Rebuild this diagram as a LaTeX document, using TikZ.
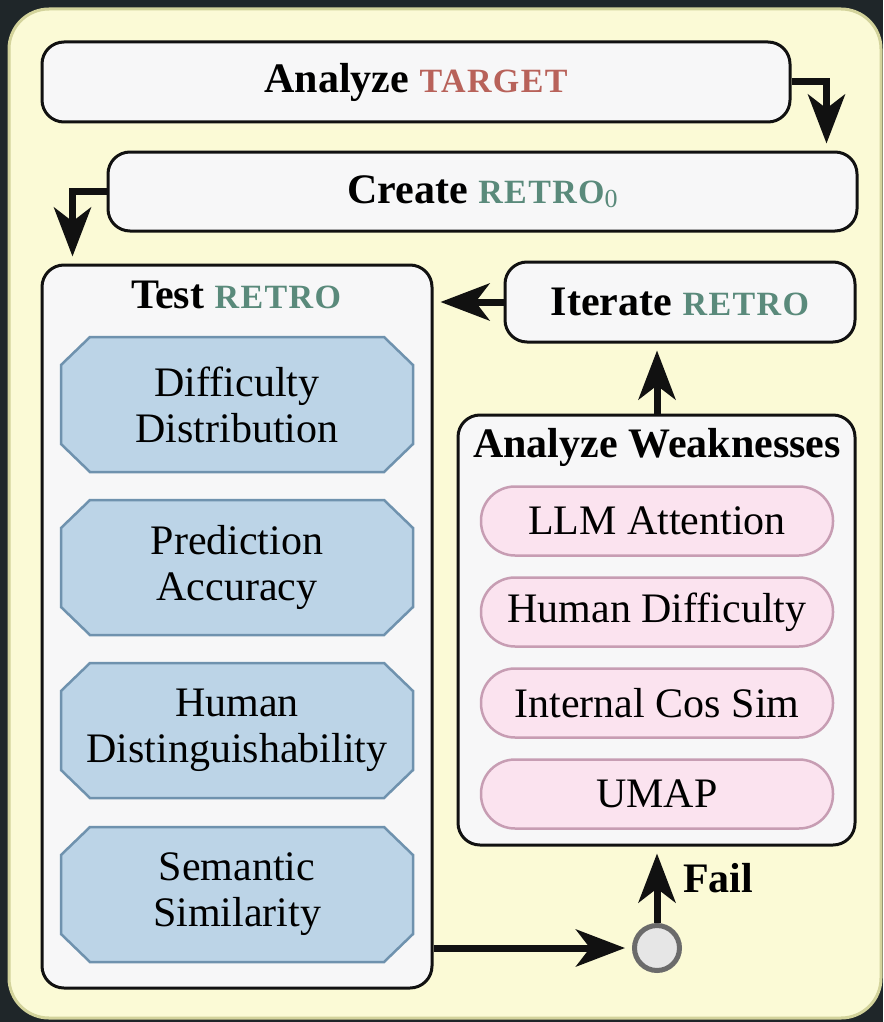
\documentclass[tikz,border=0pt]{standalone}
\usepackage{fontspec}
\setmainfont{Liberation Serif}
\usetikzlibrary{arrows.meta}
\definecolor{bgdark}{HTML}{1F2629}
\definecolor{yel}{HTML}{FBFAD6}
\definecolor{yelline}{HTML}{D3D39B}
\definecolor{boxfill}{HTML}{F7F7F8}
\definecolor{octfill}{HTML}{BCD4E7}
\definecolor{octline}{HTML}{6F92AE}
\definecolor{pinkfill}{HTML}{FBE3EF}
\definecolor{pinkline}{HTML}{C79DB3}
\definecolor{tgtred}{HTML}{B8625A}
\definecolor{retrogreen}{HTML}{5A8A7B}
\definecolor{circline}{HTML}{6B6B6B}
\definecolor{circfill}{HTML}{E6E6E6}
\definecolor{ink}{HTML}{111111}
\newcommand\mysc[1]{{\fontsize{34}{34}\selectfont\addfontfeature{LetterSpace=4}#1}}
\newcommand\retro{\textcolor{retrogreen}{\mysc{RETRO}}}
\newcommand\octa[3]{%
  \draw[octshape] (90,{#2-67.5}) -- (384,{#2-67.5}) -- (413,{#2-39.5}) -- (413,{#2+39.5})
    -- (384,{#2+67.5}) -- (90,{#2+67.5}) -- (61,{#2+39.5}) -- (61,{#2-39.5}) -- cycle;
  \node[octtext] (#1) at (237,#2) {#3};}
\begin{document}
\begin{tikzpicture}[x=1pt,y=-1pt,
  box/.style={draw=ink, line width=3pt, fill=boxfill, rounded corners=22pt, inner sep=0pt},
  ttl/.style={font=\fontsize{42}{47}\selectfont\bfseries, inner sep=0pt},
  octshape/.style={draw=octline, fill=octfill, line width=2.5pt, line join=miter},
  octtext/.style={inner sep=0pt, align=center, font=\fontsize{42}{46}\selectfont},
  pill/.style={rectangle, rounded corners=34pt, draw=pinkline, fill=pinkfill, line width=2.5pt,
    minimum width=352pt, minimum height=69pt, inner sep=0pt, font=\fontsize{42}{46}\selectfont},
  arr/.style={draw=ink, line width=7pt, -{Stealth[length=49pt,width=37pt,inset=14pt]}, shorten >=7pt}
]
\useasboundingbox (0,0) rectangle (883,1022);
\fill[bgdark] (0,0) rectangle (883,1022);
\draw[fill=yel, draw=yelline, line width=3pt, rounded corners=40pt] (9,9) rectangle (881,1018);

% boxes
\node[box, ttl, minimum width=748pt, minimum height=80pt] (target) at (416,82)
  {Analyze \textcolor{tgtred}{\mysc{TARGET}}};
\node[box, ttl, minimum width=749pt, minimum height=79pt] (create) at (482.5,191.5)
  {Create \retro\textcolor{retrogreen}{\raisebox{-4pt}{\fontsize{26}{26}\selectfont\mdseries 0}}};
\node[box, minimum width=390pt, minimum height=723pt] (test) at (237,626.5) {};
\node[ttl, anchor=base] (testt) at (236,308) {Test \retro};
\node[box, ttl, minimum width=350pt, minimum height=80pt] (iterate) at (680,302) {Iterate \retro};
\node[box, minimum width=397pt, minimum height=430pt] (aw) at (656.5,630) {};
\node[ttl, anchor=base] (awt) at (657,457) {Analyze Weaknesses};

% octagons
\octa{o1}{404.5}{Difficulty\\Distribution}
\octa{o2}{567.5}{Prediction\\Accuracy}
\octa{o3}{730.5}{Human\\Distinguishability}
\octa{o4}{894.5}{Semantic\\Similarity}

% pills
\node[pill] (p1) at (657,521) {LLM Attention};
\node[pill] (p2) at (657,612) {Human Difficulty};
\node[pill] (p3) at (657,703) {Internal Cos Sim};
\node[pill] (p4) at (657,794) {UMAP};

% decision circle
\node[circle, draw=circline, fill=circfill, line width=5pt, minimum size=45pt, inner sep=0pt] (circ) at (657,948) {};
\node[ttl, anchor=base west] (fail) at (683,892) {Fail};

% connectors
\draw[arr] (target.east) -| ([xshift=-32pt]create.north east);
\draw[arr] (create.west) -| ([xshift=32pt]test.north west);
\draw[arr] (iterate.west) -- (iterate.west -| test.east);
\draw[arr] (aw.north -| circ) -- (iterate.south -| circ);
\draw[arr] (circ -| test.east) -- (circ.west);
\draw[arr] (circ.north) -- (circ.north |- aw.south);
\end{tikzpicture}
\end{document}
